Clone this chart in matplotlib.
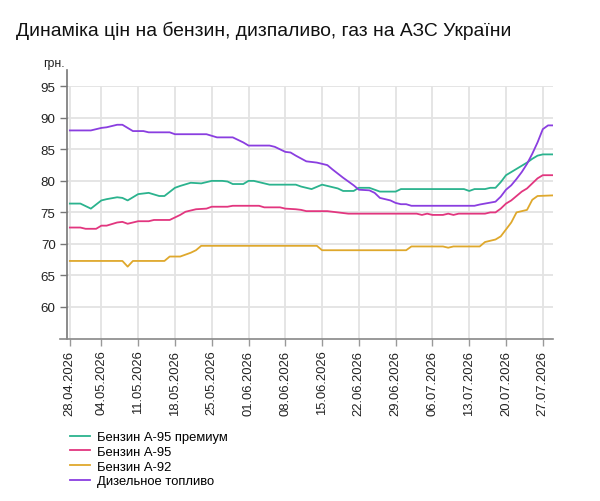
import numpy as np
import pandas as pd
import matplotlib
matplotlib.use('Agg')
import matplotlib.pyplot as plt

plt.rcParams['font.family'] = ['Liberation Sans', 'DejaVu Sans']

start = pd.Timestamp('2026-04-28')
end = pd.Timestamp('2026-07-29')

# day offsets from 28.04.2026 and prices (грн.)
premium_day = [0, 2, 4, 6, 7, 9, 10, 11, 13, 15, 17, 18, 20, 21, 23, 25, 27, 29, 30, 31, 33, 34,
               35, 36, 38, 43, 44, 46, 48, 49, 51, 52, 54, 55, 57, 59, 62, 63, 75, 76, 77, 79,
               80, 81, 82, 83, 84, 85, 86, 87, 88, 89, 90, 92]
premium_val = [76.4, 76.4, 75.6, 76.9, 77.1, 77.4, 77.3, 76.9, 77.9, 78.1, 77.6, 77.6, 78.9, 79.2,
               79.7, 79.6, 80.0, 80.0, 79.9, 79.5, 79.5, 80.0, 80.0, 79.8, 79.4, 79.4, 79.1, 78.7,
               79.4, 79.2, 78.8, 78.4, 78.4, 78.9, 78.9, 78.3, 78.3, 78.7, 78.7, 78.4, 78.7, 78.7,
               78.9, 78.9, 79.8, 80.9, 81.4, 81.9, 82.4, 82.9, 83.5, 84.0, 84.2, 84.2]

a95_day = [0, 2, 3, 5, 6, 7, 9, 10, 11, 13, 15, 16, 19, 20, 21, 22, 24, 26, 27, 30, 31, 36, 37,
           40, 41, 43, 44, 45, 49, 51, 53, 66, 67, 68, 69, 71, 72, 73, 74, 79, 80, 81, 82, 83,
           84, 85, 86, 87, 88, 89, 90, 92]
a95_val = [72.6, 72.6, 72.4, 72.4, 72.9, 72.9, 73.4, 73.5, 73.2, 73.6, 73.6, 73.8, 73.8, 74.2,
           74.6, 75.1, 75.5, 75.6, 75.9, 75.9, 76.05, 76.05, 75.8, 75.8, 75.6, 75.5, 75.4, 75.2,
           75.2, 75.0, 74.8, 74.8, 74.6, 74.8, 74.6, 74.6, 74.8, 74.6, 74.8, 74.8, 75.0, 75.0,
           75.6, 76.4, 76.9, 77.6, 78.3, 78.8, 79.6, 80.4, 80.9, 80.9]

a92_day = [0, 10, 11, 12, 18, 19, 21, 23, 24, 25, 47, 48, 64, 65, 71, 72, 73, 78, 79, 80, 81,
           82, 83, 84, 85, 87, 88, 89, 92]
a92_val = [67.3, 67.3, 66.4, 67.3, 67.3, 68.0, 68.0, 68.6, 69.0, 69.7, 69.7, 69.0, 69.0, 69.6,
           69.6, 69.4, 69.6, 69.6, 70.3, 70.5, 70.7, 71.2, 72.3, 73.4, 75.0, 75.4, 77.0, 77.6, 77.7]

diesel_day = [0, 4, 6, 7, 9, 10, 12, 14, 15, 19, 20, 26, 28, 31, 33, 34, 38, 39, 41, 42, 43, 45,
              47, 49, 50, 52, 54, 55, 57, 58, 59, 61, 62, 63, 64, 65, 77, 78, 79, 81, 82, 83,
              84, 85, 86, 87, 88, 89, 90, 91, 92]
diesel_val = [88.0, 88.0, 88.4, 88.5, 88.9, 88.9, 87.9, 87.9, 87.7, 87.7, 87.4, 87.4, 86.9, 86.9,
              86.1, 85.6, 85.6, 85.4, 84.6, 84.5, 84.0, 83.1, 82.9, 82.5, 81.8, 80.5, 79.3, 78.6,
              78.5, 78.1, 77.3, 76.9, 76.5, 76.3, 76.3, 76.05, 76.05, 76.25, 76.4, 76.7, 77.5,
              78.6, 79.3, 80.3, 81.4, 82.7, 84.3, 86.1, 88.2, 88.8, 88.8]

series = [
    ('Бензин А-95 премиум', premium_day, premium_val, '#2bb38e'),
    ('Бензин А-95', a95_day, a95_val, '#e2367f'),
    ('Бензин А-92', a92_day, a92_val, '#dfa82c'),
    ('Дизельное топливо', diesel_day, diesel_val, '#8a3ee0'),
]

tick_dates = ['28.04.2026', '04.05.2026', '11.05.2026', '18.05.2026', '25.05.2026',
              '01.06.2026', '08.06.2026', '15.06.2026', '22.06.2026', '29.06.2026',
              '06.07.2026', '13.07.2026', '20.07.2026', '27.07.2026']
y_ticks = [60, 65, 70, 75, 80, 85, 90, 95]

fig = plt.figure(figsize=(6, 5.02), dpi=100)
ax = fig.add_axes([66.7 / 600, 1 - 339.5 / 502, 486.6 / 600, 252.2 / 502])

for name, days, vals, col in series:
    x = start + pd.to_timedelta(days, unit='D')
    ax.plot(x, vals, color=col, lw=1.3, label=name)

ticks = pd.to_datetime(tick_dates, format='%d.%m.%Y')
ax.set_xticks(ticks)
ax.set_xticklabels(tick_dates, rotation=90, fontsize=9.4, color='#222222')
ax.set_yticks(y_ticks)
ax.set_yticklabels([str(v) for v in y_ticks], fontsize=9.6, color='#222222')
ax.set_xlim(start - pd.Timedelta(days=0.6), end)
ax.set_ylim(55, 95)

ax.grid(True, color='#e3e3e3', lw=1.3)
ax.set_axisbelow(True)
for s in ['top', 'right', 'left', 'bottom']:
    ax.spines[s].set_visible(False)
# axis lines: y axis runs above the plot, x axis runs a bit to the left
ax.plot([0, 0], [0, 1.066], transform=ax.transAxes, color='#777777', lw=1.2, clip_on=False)
ax.plot([-0.0138, 1], [0, 0], transform=ax.transAxes, color='#888888', lw=1.2, clip_on=False)
ax.tick_params(axis='y', length=5, width=1, color='#777777', pad=3)
ax.tick_params(axis='x', length=5, width=1, color='#999999', pad=3)

ax.text(-0.005, 1.068, 'грн.', transform=ax.transAxes, ha='right', va='bottom', fontsize=8.8,
        color='#222222')

fig.text(16 / 600, 1 - 30.5 / 502, 'Динаміка цін на бензин, дизпаливо, газ на АЗС України',
         fontsize=13.9, va='center', ha='left', color='#111111')

ax.legend(loc='upper left', bbox_to_anchor=(70 / 600, 1 - 432 / 502), bbox_transform=fig.transFigure,
          frameon=False, fontsize=9.4, handlelength=1.5, handletextpad=0.55, labelspacing=0.2,
          borderpad=0, borderaxespad=0)

fig.savefig('out.png', dpi=100)
